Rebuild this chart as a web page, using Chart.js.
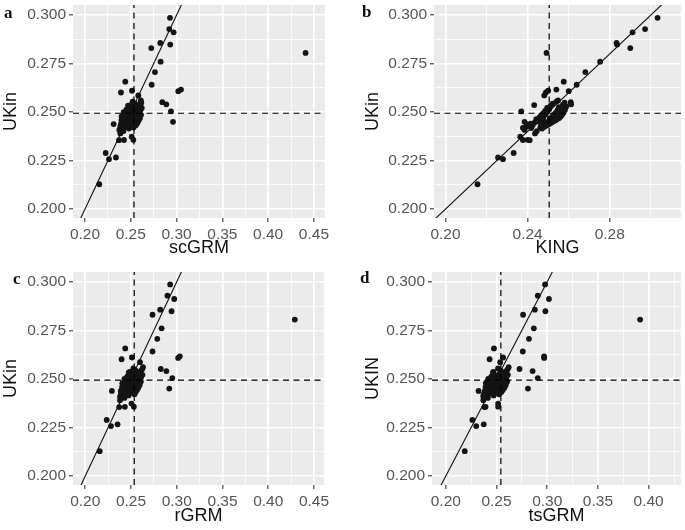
<!DOCTYPE html>
<html>
<head>
<meta charset="utf-8">
<script src="https://cdn.jsdelivr.net/npm/chart.js@4.4.1/dist/chart.umd.min.js"></script>
<style>
  html, body { margin: 0; padding: 0; background: #fff; }
  #wrap { position: relative; width: 685px; height: 530px; overflow: hidden; }
  canvas { position: absolute; }
  .tag { position: absolute; font-family: 'Liberation Serif', 'DejaVu Serif', serif; font-weight: bold; font-size: 17px; color: #111; line-height: 1; }
</style>
</head>
<body>
<div id="wrap">
  <canvas id="pa" width="335" height="265" style="left:0;top:0"></canvas>
  <canvas id="pb" width="345" height="265" style="left:340px;top:0"></canvas>
  <canvas id="pc" width="335" height="265" style="left:0;top:265px"></canvas>
  <canvas id="pd" width="345" height="265" style="left:340px;top:265px"></canvas>
  <div class="tag" style="left:4px;top:4px">a</div>
  <div class="tag" style="left:362px;top:3px">b</div>
  <div class="tag" style="left:13px;top:270px">c</div>
  <div class="tag" style="left:360px;top:269px">d</div>
</div>
<script>
// UKin values of the scattered pairs, same order in every panel
const ukinScatter = [0.2986, 0.2928, 0.2911, 0.2856, 0.2848, 0.2830, 0.2805, 0.2760, 0.2706, 0.2657,
  0.2641, 0.2616, 0.2608, 0.2610, 0.2601, 0.2586, 0.2560, 0.2551, 0.2540, 0.2536,
  0.2504, 0.2450, 0.2438, 0.2419, 0.2390, 0.2373, 0.2357, 0.2356, 0.2355, 0.2289,
  0.2266, 0.2257, 0.2128];
const scgrmScatter = [0.2928, 0.2920, 0.2968, 0.2822, 0.2931, 0.2724, 0.4409, 0.2826, 0.2764, 0.2440,
  0.2728, 0.3048, 0.3019, 0.2513, 0.2393, 0.2582, 0.2610, 0.2844, 0.2888, 0.2500,
  0.2939, 0.2961, 0.2313, 0.2385, 0.2386, 0.2510, 0.2528, 0.2426, 0.2371, 0.2226,
  0.2338, 0.2262, 0.2156];
const kingScatter = [0.3033, 0.2972, 0.2911, 0.2833, 0.2836, 0.2900, 0.2492, 0.2753, 0.2681, 0.2576,
  0.2639, 0.2540, 0.2600, 0.2500, 0.2489, 0.2481, 0.2548, 0.2610, 0.2612, 0.2432,
  0.2369, 0.2385, 0.2395, 0.2377, 0.2436, 0.2364, 0.2400, 0.2377, 0.2410, 0.2332,
  0.2256, 0.2280, 0.2156];
const rgrmScatter = [0.2928, 0.2898, 0.2972, 0.2819, 0.2943, 0.2735, 0.4290, 0.2834, 0.2787, 0.2437,
  0.2735, 0.3033, 0.3015, 0.2510, 0.2397, 0.2598, 0.2631, 0.2825, 0.2886, 0.2490,
  0.2951, 0.2918, 0.2291, 0.2390, 0.2380, 0.2505, 0.2531, 0.2433, 0.2371, 0.2234,
  0.2353, 0.2281, 0.2158];
const tsgrmScatter = [0.2979, 0.2907, 0.3017, 0.2878, 0.2982, 0.2762, 0.3916, 0.2868, 0.2820, 0.2475,
  0.2759, 0.2969, 0.2970, 0.2565, 0.2432, 0.2536, 0.2620, 0.2727, 0.2856, 0.2470,
  0.2907, 0.2810, 0.2323, 0.2372, 0.2370, 0.2516, 0.2516, 0.2392, 0.2380, 0.2262,
  0.2374, 0.2300, 0.2187];

// the dense group near 0.25
const ukinCluster = [0.2402, 0.2408, 0.2415, 0.2418, 0.2421, 0.2424, 0.2427, 0.2430, 0.2432, 0.2434,
  0.2436, 0.2438, 0.2440, 0.2442, 0.2443, 0.2445, 0.2447, 0.2448, 0.2450, 0.2452,
  0.2453, 0.2455, 0.2456, 0.2458, 0.2460, 0.2461, 0.2463, 0.2464, 0.2466, 0.2468,
  0.2469, 0.2471, 0.2473, 0.2474, 0.2476, 0.2478, 0.2480, 0.2482, 0.2484, 0.2486,
  0.2488, 0.2490, 0.2493, 0.2495, 0.2498, 0.2500, 0.2503, 0.2506, 0.2509, 0.2512,
  0.2515, 0.2518, 0.2521, 0.2525, 0.2529, 0.2533, 0.2538, 0.2543, 0.2548, 0.2554];
const scgrmCluster = [0.2420, 0.2375, 0.2480, 0.2405, 0.2530, 0.2455, 0.2388, 0.2500, 0.2555, 0.2425,
  0.2470, 0.2392, 0.2515, 0.2440, 0.2570, 0.2485, 0.2410, 0.2540, 0.2458, 0.2505,
  0.2428, 0.2585, 0.2472, 0.2398, 0.2520, 0.2490, 0.2435, 0.2560, 0.2462, 0.2600,
  0.2415, 0.2510, 0.2450, 0.2545, 0.2482, 0.2400, 0.2575, 0.2468, 0.2525, 0.2612,
  0.2432, 0.2535, 0.2478, 0.2590, 0.2498, 0.2422, 0.2565, 0.2508, 0.2605, 0.2452,
  0.2550, 0.2488, 0.2620, 0.2530, 0.2580, 0.2470, 0.2598, 0.2548, 0.2615, 0.2520];
const kingCluster = [0.2445, 0.2385, 0.2470, 0.2418, 0.2462, 0.2482, 0.2400, 0.2468, 0.2495, 0.2425,
  0.2480, 0.2505, 0.2415, 0.2465, 0.2500, 0.2515, 0.2435, 0.2488, 0.2522, 0.2450,
  0.2505, 0.2532, 0.2462, 0.2512, 0.2540, 0.2470, 0.2525, 0.2442, 0.2508, 0.2552,
  0.2475, 0.2530, 0.2458, 0.2518, 0.2560, 0.2478, 0.2540, 0.2465, 0.2525, 0.2568,
  0.2488, 0.2548, 0.2475, 0.2535, 0.2575, 0.2495, 0.2558, 0.2485, 0.2545, 0.2582,
  0.2505, 0.2565, 0.2495, 0.2552, 0.2588, 0.2512, 0.2572, 0.2522, 0.2580, 0.2540];
const rgrmCluster = [0.2428, 0.2380, 0.2475, 0.2410, 0.2538, 0.2450, 0.2392, 0.2505, 0.2550, 0.2430,
  0.2478, 0.2388, 0.2520, 0.2445, 0.2565, 0.2490, 0.2415, 0.2545, 0.2462, 0.2512,
  0.2432, 0.2580, 0.2478, 0.2402, 0.2528, 0.2495, 0.2440, 0.2565, 0.2468, 0.2595,
  0.2420, 0.2515, 0.2455, 0.2552, 0.2488, 0.2405, 0.2580, 0.2472, 0.2530, 0.2608,
  0.2438, 0.2540, 0.2482, 0.2595, 0.2502, 0.2428, 0.2570, 0.2512, 0.2610, 0.2458,
  0.2555, 0.2492, 0.2625, 0.2535, 0.2585, 0.2475, 0.2602, 0.2552, 0.2620, 0.2525];
const tsgrmCluster = [0.2415, 0.2370, 0.2472, 0.2400, 0.2525, 0.2448, 0.2382, 0.2495, 0.2548, 0.2420,
  0.2465, 0.2385, 0.2508, 0.2435, 0.2562, 0.2480, 0.2405, 0.2535, 0.2452, 0.2500,
  0.2422, 0.2578, 0.2468, 0.2392, 0.2515, 0.2485, 0.2430, 0.2555, 0.2458, 0.2592,
  0.2410, 0.2505, 0.2445, 0.2540, 0.2478, 0.2395, 0.2570, 0.2462, 0.2520, 0.2605,
  0.2428, 0.2530, 0.2472, 0.2585, 0.2492, 0.2418, 0.2560, 0.2502, 0.2598, 0.2448,
  0.2545, 0.2482, 0.2612, 0.2525, 0.2575, 0.2465, 0.2592, 0.2542, 0.2608, 0.2515];

// reference lines (means) and the y = x line
const meanUKin = 0.2494;
const meanScgrm = 0.2535, meanKing = 0.2505, meanRgrm = 0.2535, meanTsgrm = 0.2543;
const identityEnds = [0.15, 0.50];

// ticks
const yMajor = [0.200, 0.225, 0.250, 0.275, 0.300];
const yMinor = [0.2125, 0.2375, 0.2625, 0.2875];
const grmMajor = [0.20, 0.25, 0.30, 0.35, 0.40, 0.45];
const grmMinor = [0.225, 0.275, 0.325, 0.375, 0.425];
const kingMajor = [0.20, 0.24, 0.28];
const kingMinor = [0.22, 0.26, 0.30];

const isMajor = (v, list) => list.some(m => Math.abs(m - v) < 1e-9);

const panels = [
  { id: 'pa', xLabel: 'scGRM', yLabel: 'UKin', xs: scgrmScatter, xc: scgrmCluster, meanX: meanScgrm,
    xMin: 0.1869, xMax: 0.4621, yMin: 0.1954, yMax: 0.3052, xMajor: grmMajor, xMinor: grmMinor,
    padTop: 5, padRight: 10, yWidth: 73, xHeight: 47, yTitlePad: 0, xTitlePad: 6 },
  { id: 'pb', xLabel: 'KING', yLabel: 'UKin', xs: kingScatter, xc: kingCluster, meanX: meanKing,
    xMin: 0.1944, xMax: 0.3147, yMin: 0.1954, yMax: 0.3052, xMajor: kingMajor, xMinor: kingMinor,
    padTop: 5, padRight: 0, yWidth: 94, xHeight: 47, yTitlePad: 22, xTitlePad: 6 },
  { id: 'pc', xLabel: 'rGRM', yLabel: 'UKin', xs: rgrmScatter, xc: rgrmCluster, meanX: meanRgrm,
    xMin: 0.1866, xMax: 0.4609, yMin: 0.1954, yMax: 0.3050, xMajor: grmMajor, xMinor: grmMinor,
    padTop: 7, padRight: 11, yWidth: 73, xHeight: 45, yTitlePad: 0, xTitlePad: 3 },
  { id: 'pd', xLabel: 'tsGRM', yLabel: 'UKIN', xs: tsgrmScatter, xc: tsgrmCluster, meanX: meanTsgrm,
    xMin: 0.1864, xMax: 0.4319, yMin: 0.1954, yMax: 0.3050, xMajor: grmMajor, xMinor: grmMinor,
    padTop: 7, padRight: 0, yWidth: 92, xHeight: 45, yTitlePad: 22, xTitlePad: 3 }
];

const panelBg = {
  id: 'panelBg',
  beforeDraw(chart) {
    const a = chart.chartArea;
    chart.ctx.save();
    chart.ctx.fillStyle = '#EBEBEB';
    chart.ctx.fillRect(a.left, a.top, a.right - a.left, a.bottom - a.top);
    chart.ctx.restore();
  }
};

const tickFont = { family: "'Liberation Sans', Arial, sans-serif", size: 15.5 };
const titleFont = { family: "'Liberation Sans', Arial, sans-serif", size: 18 };

function axis(min, max, major, minor, digits, fitFn, extra) {
  const all = major.concat(minor).filter(v => v >= min && v <= max).sort((p, q) => p - q);
  return Object.assign({
    type: 'linear', min, max,
    afterBuildTicks: s => { s.ticks = all.map(v => ({ value: v })); },
    afterFit: s => {
      fitFn(s);
      // labels may hang over the panel edge, do not shrink the panel for them
      s.paddingTop = s.paddingBottom = s.paddingLeft = s.paddingRight = 0;
    },
    border: { display: false },
    grid: {
      color: '#FFFFFF',
      lineWidth: c => isMajor(c.tick.value, major) ? 1.6 : 0.8,
      tickColor: c => isMajor(c.tick.value, major) ? '#333333' : 'rgba(0,0,0,0)',
      tickWidth: 1.1,
      tickLength: 4
    },
    ticks: {
      autoSkip: false, maxRotation: 0, minRotation: 0,
      color: '#555555', font: tickFont,
      callback: v => isMajor(v, major) ? v.toFixed(digits) : ''
    }
  }, extra);
}

function makeChart(p) {
  const pts = ukinScatter.map((y, i) => ({ x: p.xs[i], y }))
    .concat(ukinCluster.map((y, i) => ({ x: p.xc[i], y })));
  const dashed = { showLine: true, borderColor: '#000000', borderWidth: 1.2, borderDash: [6, 4.5], pointRadius: 0 };
  new Chart(document.getElementById(p.id), {
    type: 'scatter',
    data: {
      datasets: [
        Object.assign({ data: [{ x: p.xMin, y: meanUKin }, { x: p.xMax, y: meanUKin }] }, dashed),
        Object.assign({ data: [{ x: p.meanX, y: p.yMin }, { x: p.meanX, y: p.yMax }] }, dashed),
        { data: identityEnds.map(v => ({ x: v, y: v })), showLine: true, borderColor: '#111111', borderWidth: 1.1, pointRadius: 0 },
        { data: pts, backgroundColor: '#141414', borderWidth: 0, pointRadius: 2.9 }
      ]
    },
    options: {
      responsive: false,
      animation: false,
      devicePixelRatio: 1,
      layout: { padding: { top: p.padTop, right: p.padRight, bottom: 0, left: 0 } },
      plugins: { legend: { display: false }, tooltip: { enabled: false } },
      scales: {
        x: axis(p.xMin, p.xMax, p.xMajor, p.xMinor, 2, s => { s.height = p.xHeight; }, {
          position: 'bottom',
          title: { display: true, text: p.xLabel, color: '#111111', font: titleFont, padding: { top: 0, bottom: p.xTitlePad } }
        }),
        y: axis(p.yMin, p.yMax, yMajor, yMinor, 3, s => { s.width = p.yWidth; }, {
          position: 'left',
          title: { display: true, text: p.yLabel, color: '#111111', font: titleFont, padding: { top: p.yTitlePad, bottom: 0 } }
        })
      }
    },
    plugins: [panelBg]
  });
}

panels.forEach(makeChart);
</script>
</body>
</html>
